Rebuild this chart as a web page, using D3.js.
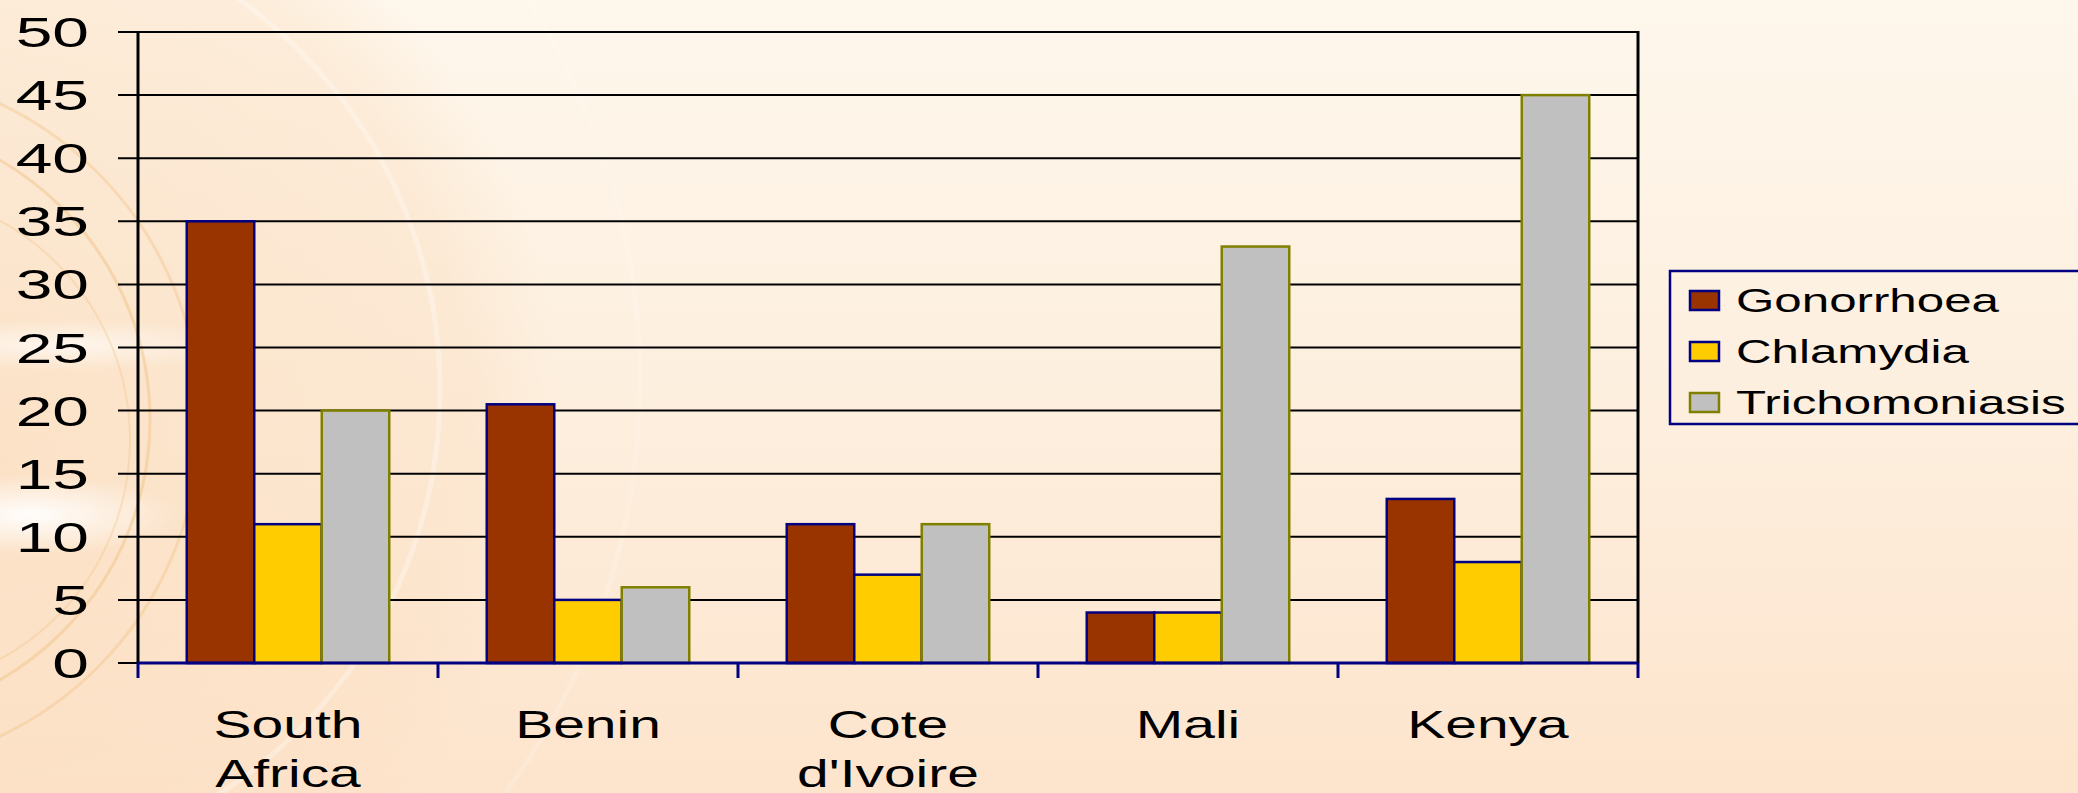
<!DOCTYPE html>
<html>
<head>
<meta charset="utf-8">
<script src="https://cdn.jsdelivr.net/npm/d3@7"></script>
<style>
  html, body { margin: 0; padding: 0; overflow: hidden; }
  svg { display: block; }
  text { font-family: "Liberation Sans", Arial, sans-serif; fill: #000; }
</style>
</head>
<body>
<svg id="chart" width="2078" height="793"></svg>
<script>
// Prevalence of STIs (%) by country
const countries = ["South Africa", "Benin", "Cote d'Ivoire", "Mali", "Kenya"];
const countryLines = [["South", "Africa"], ["Benin"], ["Cote", "d'Ivoire"], ["Mali"], ["Kenya"]];
const infections = ["Gonorrhoea", "Chlamydia", "Trichomoniasis"];
const gonorrhoea = [35, 20.5, 11, 4, 13];
const chlamydia = [11, 5, 7, 4, 8];
const trichomoniasis = [20, 6, 11, 33, 45];
const yTicks = [0, 5, 10, 15, 20, 25, 30, 35, 40, 45, 50];

const seriesValues = [gonorrhoea, chlamydia, trichomoniasis];
const fills = ["#993300", "#FFCC00", "#C0C0C0"];
const strokes = ["#000080", "#000080", "#808000"];

const W = 2078, H = 793;
const plot = { left: 138, right: 1638, top: 32, bottom: 663 };
const svg = d3.select("#chart");
const defs = svg.append("defs");

// ---- slide background ----
const bg = defs.append("linearGradient").attr("id", "bgGrad")
  .attr("x1", 0).attr("y1", 0).attr("x2", 0).attr("y2", 1);
bg.append("stop").attr("offset", "0%").attr("stop-color", "#FEF7EC");
bg.append("stop").attr("offset", "55%").attr("stop-color", "#FDEEDD");
bg.append("stop").attr("offset", "100%").attr("stop-color", "#FDE4CC");
svg.append("rect").attr("width", W).attr("height", H).attr("fill", "url(#bgGrad)");

const disc = defs.append("radialGradient").attr("id", "discGrad")
  .attr("gradientUnits", "userSpaceOnUse")
  .attr("cx", -40).attr("cy", 420).attr("r", 600);
disc.append("stop").attr("offset", "0%").attr("stop-color", "#FAD8B4").attr("stop-opacity", 0.55);
disc.append("stop").attr("offset", "85%").attr("stop-color", "#FBE0C4").attr("stop-opacity", 0.45);
disc.append("stop").attr("offset", "100%").attr("stop-color", "#FBE0C4").attr("stop-opacity", 0);
svg.append("circle").attr("cx", -40).attr("cy", 420).attr("r", 600).attr("fill", "url(#discGrad)");

const glow = defs.append("radialGradient").attr("id", "glowGrad");
glow.append("stop").attr("offset", "0%").attr("stop-color", "#FFFFFF").attr("stop-opacity", 0.95);
glow.append("stop").attr("offset", "100%").attr("stop-color", "#FFFFFF").attr("stop-opacity", 0);
svg.append("ellipse").attr("cx", 30).attr("cy", 515).attr("rx", 150).attr("ry", 40).attr("fill", "url(#glowGrad)");
svg.append("ellipse").attr("cx", 60).attr("cy", 345).attr("rx", 190).attr("ry", 26).attr("fill", "url(#glowGrad)").attr("opacity", 0.7);

const arcs = svg.append("g").attr("fill", "none");
[[-150, 420, 300, "#F2C488", 0.5, 3], [-150, 420, 350, "#F2C488", 0.4, 3],
 [-120, 440, 250, "#F2C488", 0.35, 2], [-40, 390, 480, "#FFFFFF", 0.3, 5],
 [-60, 380, 700, "#FFFFFF", 0.15, 5]]
  .forEach(([cx, cy, r, c, o, w]) => arcs.append("circle")
    .attr("cx", cx).attr("cy", cy).attr("r", r)
    .attr("stroke", c).attr("stroke-opacity", o).attr("stroke-width", w));

// ---- scales ----
const y = d3.scaleLinear().domain([0, 50]).range([plot.bottom, plot.top]);
const x0 = d3.scaleBand().domain(countries).range([plot.left, plot.right]).padding(0);
const bw = x0.bandwidth();
const barW = bw * 0.225;
const x1 = d3.scaleBand().domain(infections)
  .range([(bw - 3 * barW) / 2, (bw + 3 * barW) / 2]).padding(0);

// ---- gridlines + y ticks ----
const grid = svg.append("g");
grid.selectAll("line").data(yTicks.filter(d => d > 0)).join("line")
  .attr("x1", plot.left - 20).attr("x2", plot.right)
  .attr("y1", d => y(d)).attr("y2", d => y(d))
  .attr("stroke", "#000").attr("stroke-width", 2);
svg.append("line")
  .attr("x1", plot.left - 20).attr("x2", plot.left)
  .attr("y1", y(0)).attr("y2", y(0))
  .attr("stroke", "#000").attr("stroke-width", 2);

svg.append("g").selectAll("text").data(yTicks).join("text")
  .attr("transform", d => `translate(89,${y(d) + 15}) scale(1.57,1)`)
  .attr("text-anchor", "end")
  .style("font-size", "42px")
  .text(d => d);

// right border
svg.append("line")
  .attr("x1", plot.right).attr("x2", plot.right)
  .attr("y1", plot.top - 1).attr("y2", plot.bottom)
  .attr("stroke", "#000").attr("stroke-width", 3);
// y axis line
svg.append("line")
  .attr("x1", plot.left).attr("x2", plot.left)
  .attr("y1", plot.top - 1).attr("y2", plot.bottom)
  .attr("stroke", "#000").attr("stroke-width", 3);

// ---- bars ----
const groups = svg.append("g").selectAll("g").data(countries).join("g")
  .attr("transform", d => `translate(${x0(d)},0)`);
groups.selectAll("rect")
  .data((d, i) => infections.map((s, k) => ({ s, k, v: seriesValues[k][i] })))
  .join("rect")
  .attr("x", d => x1(d.s))
  .attr("width", x1.bandwidth())
  .attr("y", d => y(d.v))
  .attr("height", d => y(0) - y(d.v))
  .attr("fill", d => fills[d.k])
  .attr("stroke", d => strokes[d.k])
  .attr("stroke-width", 2.5);

// ---- x axis ----
svg.append("line")
  .attr("x1", plot.left).attr("x2", plot.right)
  .attr("y1", plot.bottom).attr("y2", plot.bottom)
  .attr("stroke", "#000080").attr("stroke-width", 3);
const xTickPos = countries.map(c => x0(c)).concat([plot.right]);
svg.append("g").selectAll("line").data(xTickPos).join("line")
  .attr("x1", d => d).attr("x2", d => d)
  .attr("y1", plot.bottom).attr("y2", plot.bottom + 15)
  .attr("stroke", "#000080").attr("stroke-width", 3);

const xLabels = svg.append("g").selectAll("g").data(countries).join("g")
  .attr("transform", d => `translate(${x0(d) + bw / 2},0)`);
xLabels.each(function (d, i) {
  d3.select(this).selectAll("text").data(countryLines[i]).join("text")
    .attr("transform", (t, j) => `translate(0,${738 + j * 49}) scale(1.48,1)`)
    .attr("text-anchor", "middle")
    .style("font-size", "38.5px")
    .text(t => t);
});

// ---- legend ----
const legend = svg.append("g");
legend.append("rect")
  .attr("x", 1670).attr("y", 271).attr("width", 440).attr("height", 153)
  .attr("fill", "none").attr("stroke", "#000080").attr("stroke-width", 2.5);
const items = legend.selectAll("g").data(infections).join("g")
  .attr("transform", (d, i) => `translate(1690,${300 + i * 51})`);
items.append("rect")
  .attr("x", 0).attr("y", -9).attr("width", 29).attr("height", 19)
  .attr("fill", (d, i) => fills[i]).attr("stroke", (d, i) => strokes[i]).attr("stroke-width", 2.5);
items.append("text")
  .attr("transform", "translate(46,12) scale(1.45,1)")
  .style("font-size", "34px")
  .text(d => d);
</script>
</body>
</html>
